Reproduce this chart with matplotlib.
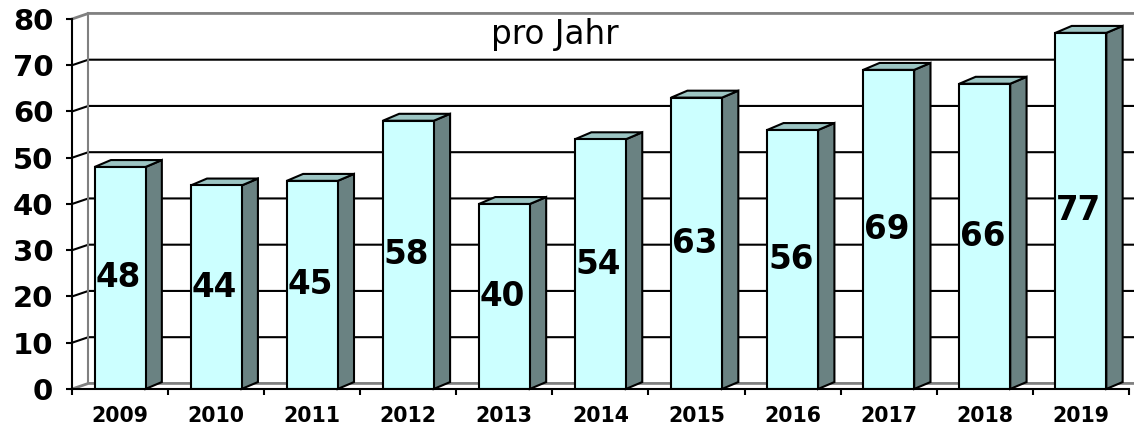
import numpy as np
import matplotlib
matplotlib.use('Agg')
import matplotlib.pyplot as plt
from matplotlib.patches import Polygon

years = ['2009', '2010', '2011', '2012', '2013', '2014', '2015', '2016', '2017', '2018', '2019']
counts = [48, 44, 45, 58, 40, 54, 63, 56, 69, 66, 77]
y_ticks = [0, 10, 20, 30, 40, 50, 60, 70, 80]
title_text = 'pro Jahr'

# pseudo 3d depth, in data units
DX = 0.17
DY_WALL = 1.2
DY_BAR = 1.5
BAR_W = 0.53

FRONT = '#CCFFFF'
SIDE = '#6A8282'
TOP = '#9CC5C3'
GREY = '#808080'

fig = plt.figure(figsize=(11.34, 4.26), dpi=100)
ax = fig.add_axes([0.0635, 0.0869, 0.932, 0.8685])
ax.set_xlim(-0.5, len(years) - 0.5)
ax.set_ylim(0, 80)

x = np.arange(len(years))
x0 = -0.5
x1 = len(years) - 0.5

# back wall gridlines + the little diagonals from the front axis
for t in y_ticks:
    col = GREY if t in (0, 80) else 'black'
    lw = 2.0 if t in (0, 80) else 1.5
    ax.plot([x0, x0 + DX, x1 + DX], [t, t + DY_WALL, t + DY_WALL],
            color=col, lw=lw, clip_on=False, zorder=1)

# back wall left edge
ax.plot([x0 + DX, x0 + DX], [DY_WALL, 80 + DY_WALL], color=GREY, lw=1.5,
        clip_on=False, zorder=1)

# bars: front face, side, top
ax.bar(x, counts, width=BAR_W, color=FRONT, edgecolor='black', lw=1.5, zorder=3)
for xi, v in zip(x, counts):
    xl = xi - BAR_W / 2
    xr = xi + BAR_W / 2
    side = Polygon([(xr, 0), (xr + DX, DY_BAR), (xr + DX, v + DY_BAR), (xr, v)],
                   closed=True, facecolor=SIDE, edgecolor='black', lw=1.5,
                   zorder=2, clip_on=False)
    top = Polygon([(xl, v), (xl + DX, v + DY_BAR), (xr + DX, v + DY_BAR), (xr, v)],
                  closed=True, facecolor=TOP, edgecolor='black', lw=1.5,
                  zorder=2, clip_on=False)
    ax.add_patch(side)
    ax.add_patch(top)
    ax.text(xi - 0.02, v / 2, str(v), ha='center', va='center',
            fontsize=23.5, fontweight='bold', family='DejaVu Sans', zorder=4)

ax.text(0.457, 0.957, title_text, transform=ax.transAxes, ha='center', va='center',
        fontsize=23.5, family='DejaVu Sans', zorder=4)

# axes look
for s in ['top', 'right']:
    ax.spines[s].set_visible(False)
ax.spines['left'].set_linewidth(1.5)
ax.spines['bottom'].set_linewidth(1.5)
ax.spines['left'].set_zorder(5)
ax.spines['bottom'].set_zorder(5)

ax.set_yticks(y_ticks)
ax.set_yticklabels([str(t) for t in y_ticks], fontweight='bold')
ax.tick_params(axis='y', length=4.5, width=1.5, pad=9, direction='out', labelsize=21)

ax.set_xticks(x)
ax.set_xticklabels(years, fontweight='bold')
ax.set_xticks(np.arange(len(years) + 1) - 0.5, minor=True)
ax.tick_params(axis='x', which='major', length=0, pad=12, labelsize=14.8)
ax.tick_params(axis='x', which='minor', length=4.5, width=1.5, direction='out')

fig.savefig('out.png', dpi=100)
